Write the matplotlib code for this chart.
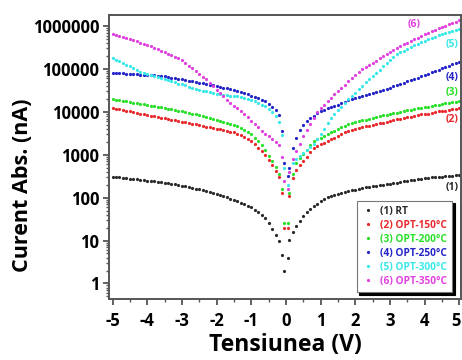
import numpy as np
import matplotlib
matplotlib.use("Agg")
import matplotlib.pyplot as plt
import matplotlib.transforms as mtransforms
from matplotlib.ticker import LogLocator, FixedLocator, NullFormatter, MultipleLocator

plt.rcParams['font.family'] = ['Open Sans', 'DejaVu Sans']
plt.rcParams['font.weight'] = 'bold'

# Voltage grid (V)
V_neg = np.round(np.arange(-5.0, -0.05, 0.1), 2)
V_pos = np.round(np.arange(0.1, 5.001, 0.1), 2)
voltage = np.concatenate([V_neg, [-0.05, 0.05], V_pos])

# Currents (nA): negative branch (-5.0..-0.1, -0.05), positive branch (0.05, 0.1..5.0)
rt_neg = [309, 303, 297, 291, 285, 279, 274, 268, 262, 257,
          251, 245, 239, 233, 227, 221, 215, 209, 203, 197,
          191, 184, 177, 170, 163, 156, 149, 142, 136, 129,
          123, 116, 109, 102, 95.5, 89, 83, 77, 71, 65,
          59, 52, 46, 40, 33, 25, 18.6, 13.5, 10, 4.5, 2.0]
rt_pos = [4, 10.5, 16, 22, 28, 38, 47, 55, 64, 73, 82,
          92, 102, 112, 118, 124, 130, 136, 142, 148, 154,
          160, 166, 173, 179, 185, 190, 196, 202, 207, 213,
          218, 224, 231, 238, 245, 252, 259, 267, 274, 281,
          288, 295, 300, 305, 310, 315, 320, 325, 331, 339]

o150_neg = [12300, 11850, 11400, 11000, 10600, 10200, 9850, 9500, 9150, 8800,
            8510, 8200, 7900, 7600, 7350, 7050, 6800, 6550, 6330, 6100,
            5890, 5680, 5470, 5270, 5080, 4890, 4710, 4530, 4360, 4160,
            3980, 3880, 3760, 3600, 3450, 3310, 3100, 2880, 2640, 2390,
            2140, 1780, 1470, 1210, 1000, 760, 575, 415, 295, 126, 20]
o150_pos = [20, 112, 280, 437, 575, 725, 910, 1150, 1410, 1580, 1740,
            1910, 2090, 2290, 2510, 2750, 3020, 3310, 3630, 3800, 3980,
            4170, 4370, 4570, 4790, 5010, 5250, 5400, 5620, 5890, 6170,
            6460, 6760, 6920, 7240, 7590, 7760, 8130, 8320, 8710, 8910,
            9120, 9550, 9770, 10200, 10500, 10700, 11200, 11500, 11700, 12300]

o200_neg = [19950, 19300, 18700, 18100, 17500, 17000, 16400, 15900, 15400, 14900,
            14450, 14000, 13550, 13100, 12700, 12300, 11850, 11400, 11000, 10600,
            10200, 9820, 9450, 9100, 8770, 8440, 8130, 7690, 7280, 6890,
            6520, 6170, 5830, 5520, 5250, 4900, 4570, 4270, 3800, 3470,
            3090, 2510, 2040, 1660, 1320, 955, 725, 525, 363, 158, 25]
o200_pos = [25, 126, 355, 630, 830, 1050, 1320, 1660, 2090, 2290, 2510,
            2750, 3020, 3310, 3630, 3980, 4370, 4790, 5250, 5500, 5750,
            6030, 6310, 6610, 6920, 7240, 7590, 7940, 8320, 8610, 8910,
            9330, 9660, 10000, 10500, 10800, 11200, 11700, 12200, 12600, 12900,
            13300, 13800, 14300, 14800, 15300, 15800, 16200, 16800, 17400, 18000]

o250_neg = [81300, 80400, 79400, 78500, 77600, 76700, 75900, 75000, 74100, 73300,
            72400, 71600, 70800, 70000, 69200, 67600, 65500, 63100, 61100, 58900,
            57000, 55000, 53200, 51300, 49700, 47900, 46800, 44900, 43200, 41500,
            39800, 38300, 36800, 35400, 34000, 32400, 30200, 28500, 26900, 25400,
            24000, 22400, 20900, 19300, 17800, 15500, 13200, 11000, 8300, 3550, 630]
o250_pos = [316, 500, 1410, 2510, 3720, 5010, 6030, 7080, 8130, 9330, 10500,
            11200, 12000, 12900, 13800, 14800, 15800, 17200, 18400, 19500, 20700,
            21900, 22900, 24300, 25700, 26900, 28500, 30200, 32000, 34300, 36700,
            39400, 42200, 45200, 47900, 51300, 55000, 58900, 63100, 67600, 72400,
            77600, 83200, 90200, 96600, 103500, 110900, 118900, 127400, 138000, 147900]

o300_neg = [182000, 166000, 151000, 138000, 126000, 115000, 105000, 95500, 87100, 81300,
            75900, 71600, 67600, 63800, 60300, 57500, 54300, 51300, 48400, 45700,
            43700, 41200, 38900, 36700, 34700, 32700, 30900, 29900, 28800, 27500,
            26600, 25700, 25100, 24500, 24000, 23400, 22900, 22400, 21400, 20200,
            19100, 17600, 16200, 14800, 13500, 11700, 9770, 7940, 5750, 2820, 500]
o300_pos = [200, 400, 630, 800, 955, 1120, 1320, 1550, 1820, 2290, 3090,
            4070, 5500, 7240, 8910, 11000, 13200, 16200, 19500, 23400, 28200,
            33900, 40700, 48400, 57500, 68400, 81300, 96600, 115000, 136000, 162000,
            191000, 224000, 245000, 269000, 295000, 324000, 355000, 385000, 417000, 452000,
            490000, 525000, 562000, 603000, 646000, 684000, 724000, 767000, 813000, 861000]

o350_neg = [646000, 617000, 582000, 550000, 519000, 490000, 462000, 437000, 412000, 389000,
            363000, 339000, 313000, 288000, 266000, 245000, 226000, 209000, 193000, 178000,
            162000, 140000, 120000, 103500, 89100, 76700, 66100, 56900, 47900, 39800,
            33100, 27500, 22900, 19100, 15800, 13800, 12000, 10500, 8710, 7410,
            6170, 5130, 4370, 3630, 3090, 2690, 2340, 2000, 1660, 890, 250]
o350_pos = [160, 400, 800, 1200, 1820, 2690, 3800, 5250, 7240, 9770, 12000,
            14800, 17800, 21400, 25700, 30500, 36300, 43200, 51300, 60300, 70800,
            83200, 97700, 111000, 124000, 140000, 157000, 176000, 197000, 221000, 248000,
            279000, 309000, 339000, 372000, 407000, 447000, 490000, 537000, 589000, 646000,
            708000, 767000, 822000, 881000, 944000, 1010000, 1096000, 1175000, 1259000, 1349000]

labels = ['(1) RT', '(2) OPT-150°C', '(3) OPT-200°C', '(4) OPT-250°C',
          '(5) OPT-300°C', '(6) OPT-350°C']
short_labels = ['(1)', '(2)', '(3)', '(4)', '(5)', '(6)']
colors = ['#2a2a2a', '#e8282c', '#28e028', '#2424c8', '#38e8e8', '#e040e0']
series = [(rt_neg, rt_pos), (o150_neg, o150_pos), (o200_neg, o200_pos),
          (o250_neg, o250_pos), (o300_neg, o300_pos), (o350_neg, o350_pos)]
# end-label anchor (V, nA)
label_pos = [(4.8, 170), (4.8, 6500), (4.8, 27700), (4.8, 62000), (4.8, 380000), (3.7, 1.1e6)]

x_ticks = [-5, -4, -3, -2, -1, 0, 1, 2, 3, 4, 5]
x_ticklabels = ['-5', '-4', '-3', '-2', '-1', '0', '1', '2', '3', '4', '5']
y_ticks = [1, 10, 100, 1000, 1e4, 1e5, 1e6]
y_ticklabels = ['1', '10', '100', '1000', '10000', '100000', '1000000']

fig = plt.figure(figsize=(4.62, 3.60), dpi=100)
ax = fig.add_axes([0.236, 0.169, 0.762, 0.789])

for (neg, pos), c, lab in zip(series, colors, labels):
    cur = np.array(neg + pos, dtype=float)
    ax.plot(voltage, cur, linestyle='none', marker='o', ms=2.3, mew=0,
            color=c, label=lab)

for (xv, yv), c, t in zip(label_pos, colors, short_labels):
    ax.text(xv, yv, t, color=c, fontsize=7.5, fontweight='bold',
            ha='center', va='center')

ax.set_yscale('log')
ax.set_xlim(-5.1, 5.05)
ax.set_ylim(0.43, 1.8e6)
ax.xaxis.set_major_locator(FixedLocator(x_ticks))
ax.xaxis.set_minor_locator(MultipleLocator(0.5))
ax.set_xticklabels(x_ticklabels)
ax.yaxis.set_major_locator(FixedLocator(y_ticks))
ax.set_yticklabels(y_ticklabels)
ax.yaxis.set_minor_locator(LogLocator(base=10, subs=np.arange(2, 10), numticks=20))
ax.yaxis.set_minor_formatter(NullFormatter())

for s in ax.spines.values():
    s.set_color('#555555')
    s.set_linewidth(1.4)
ax.tick_params(which='major', direction='out', length=4, width=1.3, color='#555555',
               labelsize=12, top=False, right=False)
ax.tick_params(axis='x', which='major', pad=5)
ax.tick_params(axis='y', which='major', pad=3)
ax.tick_params(which='minor', direction='out', length=2.5, width=1.0, color='#555555',
               top=False, right=False)
for lb in ax.get_xticklabels() + ax.get_yticklabels():
    lb.set_fontweight('bold')
# keep the last x tick label inside the canvas
last = ax.get_xticklabels()[-1]
last.set_transform(last.get_transform() +
                   mtransforms.ScaledTranslation(-3 / 100, 0, fig.dpi_scale_trans))

ax.set_xlabel('Tensiunea (V)', fontsize=16.5, fontweight='bold', va='top')
ax.xaxis.set_label_coords(0.5, -0.12)
ax.set_ylabel('Curent Abs. (nA)', fontsize=15.5, fontweight='bold')
ax.yaxis.set_label_coords(-0.216, 0.40)

leg = ax.legend(loc='lower right', bbox_to_anchor=(0.974, 0.025), borderaxespad=0,
                fontsize=7.3, frameon=True, fancybox=False, markerscale=1.0,
                handlelength=1.2, handletextpad=0.6, labelspacing=0.3,
                borderpad=0.5, shadow={'color': 'black', 'alpha': 1.0})
leg.get_frame().set_edgecolor('#777777')
leg.get_frame().set_linewidth(0.8)
for t, c in zip(leg.get_texts(), colors):
    t.set_color(c)
    t.set_fontweight('bold')

fig.savefig('out.png', dpi=100)
